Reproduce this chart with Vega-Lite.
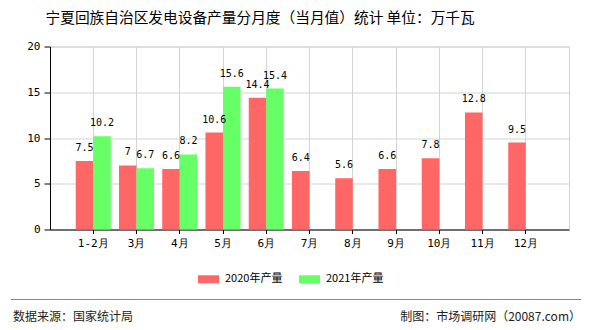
{
  "$schema": "https://vega.github.io/schema/vega-lite/v6.json",
  "background": "white",
  "padding": {"left": 10, "right": 10, "top": 10.5, "bottom": 5},
  "config": {
    "font": "Noto Sans CJK SC",
    "view": {"stroke": null},
    "legend": {"padding": 0}
  },
  "title": {
    "text": "宁夏回族自治区发电设备产量分月度（当月值）统计 单位：万千瓦",
    "fontSize": 14.7,
    "fontWeight": "normal",
    "color": "#000000",
    "anchor": "start",
    "dx": 35,
    "offset": 14.5
  },
  "spacing": 49,
  "vconcat": [
    {
      "width": 519,
      "height": 183,
      "view": {"stroke": "#d3d3d3"},
      "data": {
        "values": [
          {"month": "1-2月", "series": "2020年产量", "value": 7.5},
          {"month": "3月", "series": "2020年产量", "value": 7},
          {"month": "4月", "series": "2020年产量", "value": 6.6},
          {"month": "5月", "series": "2020年产量", "value": 10.6},
          {"month": "6月", "series": "2020年产量", "value": 14.4},
          {"month": "7月", "series": "2020年产量", "value": 6.4},
          {"month": "8月", "series": "2020年产量", "value": 5.6},
          {"month": "9月", "series": "2020年产量", "value": 6.6},
          {"month": "10月", "series": "2020年产量", "value": 7.8},
          {"month": "11月", "series": "2020年产量", "value": 12.8},
          {"month": "12月", "series": "2020年产量", "value": 9.5},
          {"month": "1-2月", "series": "2021年产量", "value": 10.2},
          {"month": "3月", "series": "2021年产量", "value": 6.7},
          {"month": "4月", "series": "2021年产量", "value": 8.2},
          {"month": "5月", "series": "2021年产量", "value": 15.6},
          {"month": "6月", "series": "2021年产量", "value": 15.4}
        ]
      },
      "encoding": {
        "x": {
          "field": "month",
          "type": "nominal",
          "sort": ["1-2月", "3月", "4月", "5月", "6月", "7月", "8月", "9月", "10月", "11月", "12月"],
          "scale": {"paddingInner": 0.19, "paddingOuter": 0.595},
          "axis": {
            "title": null,
            "labelAngle": 0,
            "labelFont": "DejaVu Sans Mono",
            "labelFontSize": 11,
            "labelColor": "#000000",
            "labelPadding": 4,
            "domainColor": "#000000",
            "tickColor": "#000000",
            "tickSize": 4,
            "grid": true,
            "gridColor": "#d3d3d3"
          }
        },
        "xOffset": {"field": "series", "type": "nominal", "sort": ["2020年产量", "2021年产量"]},
        "y": {
          "field": "value",
          "type": "quantitative",
          "scale": {"domain": [0, 20], "nice": false},
          "axis": {
            "title": null,
            "values": [0, 5, 10, 15, 20],
            "labelFont": "DejaVu Sans Mono",
            "labelFontSize": 11,
            "labelColor": "#000000",
            "labelPadding": 4,
            "domainColor": "#000000",
            "tickColor": "#000000",
            "tickSize": 6,
            "gridColor": "#d3d3d3",
            "minExtent": 39
          }
        }
      },
      "layer": [
        {
          "mark": {"type": "bar"},
          "encoding": {
            "color": {
              "field": "series",
              "type": "nominal",
              "scale": {"domain": ["2020年产量", "2021年产量"], "range": ["#FF6666", "#66FF66"]},
              "legend": {
                "title": null,
                "orient": "none",
                "direction": "horizontal",
                "legendX": 148,
                "legendY": 222,
                "symbolType": "M-1,-0.38H1V0.38H-1Z",
                "symbolSize": 441,
                "symbolStrokeWidth": 0,
                "labelFont": "Noto Sans CJK SC",
                "labelFontSize": 11,
                "labelColor": "#000000",
                "labelOffset": 6,
                "columnPadding": 16
              }
            }
          }
        },
        {
          "mark": {"type": "text", "baseline": "middle", "dy": -13, "font": "DejaVu Sans Mono", "fontSize": 10, "color": "#000000"},
          "encoding": {
            "text": {"field": "value", "type": "quantitative"}
          }
        }
      ]
    },
    {
      "width": 531,
      "height": 20,
      "data": {
        "values": [
          {"side": "left", "label": "数据来源：国家统计局"},
          {"side": "right", "label": "制图：市场调研网（20087.com）"}
        ]
      },
      "encoding": {
        "x": {
          "field": "side",
          "type": "nominal",
          "scale": {"type": "point", "padding": 0, "domain": ["left", "right"], "range": [-39, 531]},
          "axis": null
        }
      },
      "layer": [
        {
          "mark": {"type": "rule", "color": "#888888", "strokeWidth": 1},
          "encoding": {
            "x": {"datum": "left", "type": "nominal"},
            "x2": {"datum": "right"},
            "y": {"datum": 1, "type": "quantitative", "scale": {"domain": [0, 1]}, "axis": null}
          }
        },
        {
          "transform": [{"filter": "datum.side === 'left'"}],
          "mark": {"type": "text", "align": "left", "baseline": "middle", "dx": 2, "fontSize": 12, "color": "#222222"},
          "encoding": {
            "y": {"datum": 0.12, "type": "quantitative"},
            "text": {"field": "label"}
          }
        },
        {
          "transform": [{"filter": "datum.side === 'right'"}],
          "mark": {"type": "text", "align": "right", "baseline": "middle", "fontSize": 12, "color": "#222222"},
          "encoding": {
            "y": {"datum": 0.12, "type": "quantitative"},
            "text": {"field": "label"}
          }
        }
      ]
    }
  ]
}
